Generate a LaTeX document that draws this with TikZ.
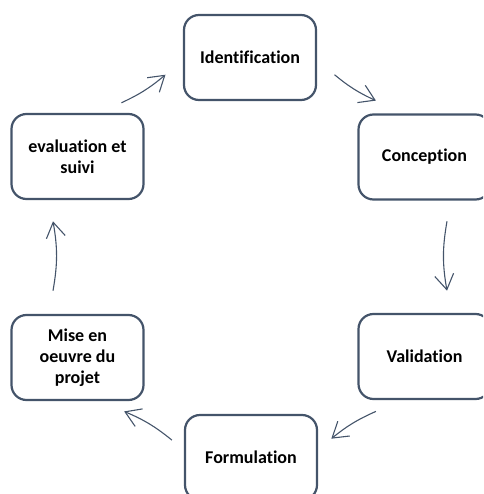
\documentclass[tikz,border=0pt]{standalone}
\usepackage{fontspec}
\setmainfont{Carlito}[RawFeature={-liga;-clig;-dlig}]
\usetikzlibrary{arrows.meta}
\definecolor{edgec}{HTML}{44546A}
\begin{document}
\begin{tikzpicture}[x=1pt,y=-1pt,
  box/.style={draw=edgec, line width=2.2pt, rounded corners=15pt, fill=white,
    align=center, inner sep=0pt, minimum width=132pt, minimum height=85pt,
    font=\fontsize{18}{21}\selectfont\bfseries},
  flow/.style={draw=edgec, line width=1.1pt,
    -{Straight Barb[length=15pt,width=19pt,line width=1.1pt]}}]
\useasboundingbox (0,0) rectangle (483,494);
\clip (0,0) rectangle (483,494);
\node[box] (ident) at (250,57.5) {Identification};
\node[box] (conc) at (424.5,157) {Conception};
\node[box] (valid) at (424.5,356.5) {Validation};
\node[box] (form) at (251,457.5) {Formulation};
\node[box] (mise) at (77.5,357.5) {Mise en\\oeuvre du\\projet};
\node[box] (eval) at (77.5,156.5) {evaluation et\\suivi};
% arc end points on a circle centred at (250,256), radius 200
\coordinate (a1) at (334.5,74.7);  \coordinate (b1) at (375.9,100.6);
\coordinate (a2) at (447,221.3);   \coordinate (b2) at (447,290.7);
\coordinate (a3) at (375.9,411.4); \coordinate (b3) at (331.3,438.7);
\coordinate (a4) at (171.9,440.1); \coordinate (b4) at (124.1,411.4);
\coordinate (a5) at (53,290.7);    \coordinate (b5) at (53,221.3);
\coordinate (a6) at (121.4,102.8); \coordinate (b6) at (165.5,74.7);
\draw[flow] (a1) to[bend right=7.5] (b1);
\draw[flow] (a2) to[bend right=10] (b2);
\draw[flow] (a3) to[bend right=7.5] (b3);
\draw[flow] (a4) to[bend right=8] (b4);
\draw[flow] (a5) to[bend right=10] (b5);
\draw[flow] (a6) to[bend right=7.5] (b6);
\end{tikzpicture}
\end{document}
